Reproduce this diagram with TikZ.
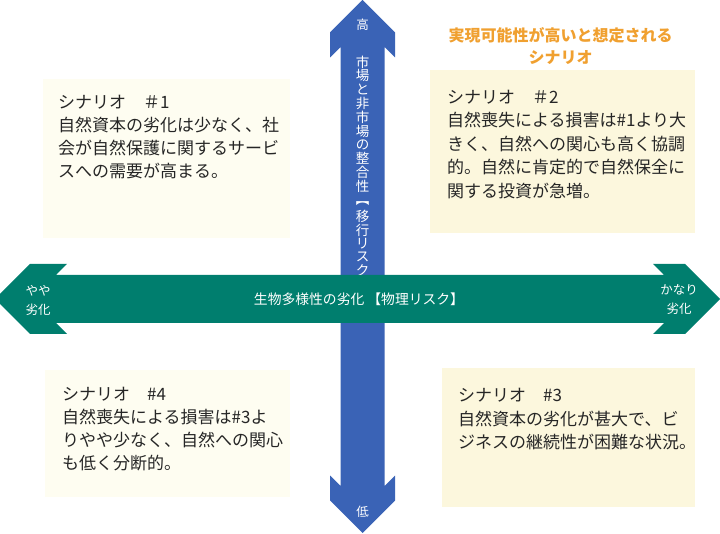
\documentclass[tikz,border=0pt]{standalone}
\usepackage{fontspec}
\setmainfont{Noto Sans CJK JP}
\definecolor{axisblue}{RGB}{58,99,182}
\definecolor{axisgreen}{RGB}{0,126,110}
\definecolor{titleorange}{RGB}{240,160,48}
\definecolor{palebox}{RGB}{254,253,241}
\definecolor{creambox}{RGB}{252,247,221}
\definecolor{bodytext}{RGB}{38,38,38}
\begin{document}
\begin{tikzpicture}[x=1pt,y=-1pt,
  bodyline/.style={anchor=base west, inner sep=0pt, text=bodytext, font=\fontsize{17}{20}\selectfont},
  vchar/.style={inner sep=0pt, text=white, font=\fontsize{13.5}{14}\selectfont},
  axislabel/.style={inner sep=0pt, text=white, align=center, font=\fontsize{12.5}{19}\selectfont}]
\useasboundingbox (0,0) rectangle (720,534);

% scenario boxes
\fill[palebox]  (43,79)  rectangle (290,238);
\fill[creambox] (430,70) rectangle (695,233);
\fill[creambox] (442,368) rectangle (695,507);
\fill[palebox]  (45,370) rectangle (290,497);

% vertical (blue) arrow
\fill[axisblue] (362.5,0) -- (330,32.5) -- (330,57.5) -- (340.5,47) -- (340.5,486)
  -- (330,475.5) -- (330,500.5) -- (362.5,533) -- (395,500.5) -- (395,475.5)
  -- (384.5,486) -- (384.5,47) -- (395,57.5) -- (395,32.5) -- cycle;

% vertical text
\foreach \c [count=\i from 0] in {市,場,と,非,市,場,の,整,合,性}
  \node[vchar] (va\i) at (362.5,{62+13.8*\i}) {\c};
\node[vchar] (vbr) at (362.5,204) {︻};
\foreach \c [count=\i from 0] in {移,行,リ,ス,ク}
  \node[vchar] (vb\i) at (362.5,{216.5+13.4*\i}) {\c};

\node[axislabel] (high) at (362.5,25) {高};
\node[axislabel] (low) at (362.5,512) {低};

% horizontal (green) arrow
\fill[axisgreen] (-5,299) -- (30,264) -- (67,264) -- (56,275) -- (664,275)
  -- (653,264) -- (685,264) -- (720,299) -- (685,334) -- (653,334)
  -- (664,323) -- (56,323) -- (67,334) -- (30,334) -- cycle;

\node[inner sep=0pt, text=white, font=\fontsize{13.8}{16}\selectfont] (haxis) at (359,299)
  {生物多様性の劣化 【物理リスク】};
\node[axislabel] (slight) at (38,300) {やや\\劣化};
\node[axislabel] (severe) at (679,300) {かなり\\劣化};

% title
\node[inner sep=0pt, text=titleorange, align=center,
  font=\fontsize{16}{22}\selectfont\bfseries] (title) at (560.5,46)
  {実現可能性が高いと想定される\\シナリオ};

% scenario texts
\foreach \t [count=\i from 0] in {シナリオ　＃1,自然資本の劣化は少なく、社,会が自然保護に関するサービ,スへの需要が高まる。}
  \node[bodyline] (sa\i) at (58,{108.5+23*\i}) {\t};
\foreach \t [count=\i from 0] in {シナリオ　＃2,自然喪失による損害は\#1より大,きく、自然への関心も高く協調,的。自然に肯定的で自然保全に,関する投資が急増。}
  \node[bodyline] (sb\i) at (447,{103.5+23.5*\i}) {\t};
\foreach \t [count=\i from 0] in {シナリオ　\#3,自然資本の劣化が甚大で、ビ,ジネスの継続性が困難な状況。}
  \node[bodyline] (sc\i) at (458,{401.5+23.5*\i}) {\t};
\foreach \t [count=\i from 0] in {シナリオ　\#4,自然喪失による損害は\#3よ,りやや少なく、自然への関心,も低く分断的。}
  \node[bodyline] (sd\i) at (62,{400.5+23*\i}) {\t};
\end{tikzpicture}
\end{document}
